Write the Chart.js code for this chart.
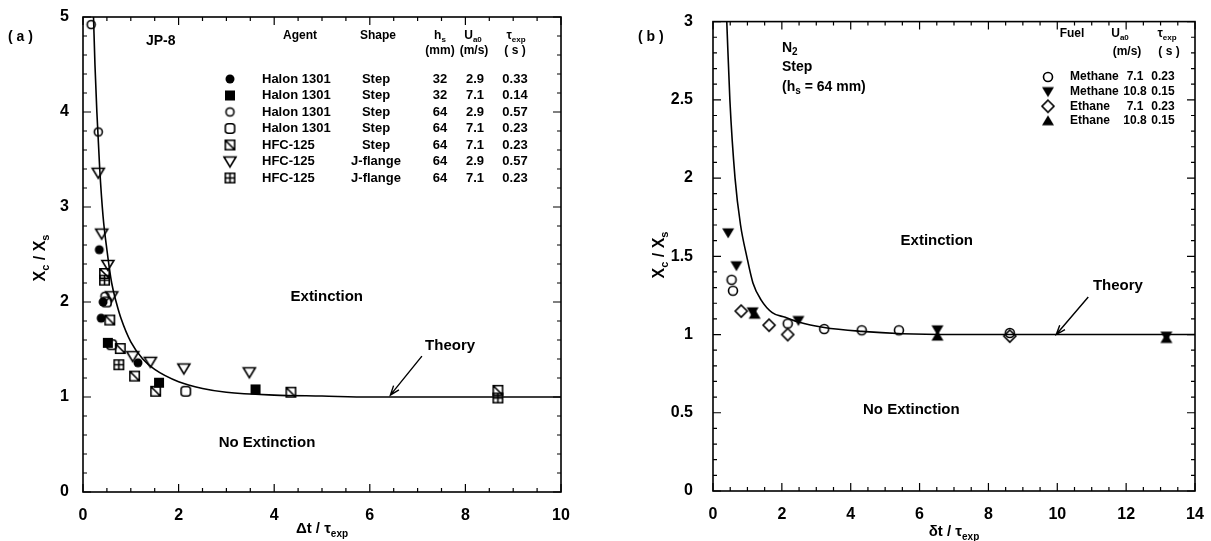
<!DOCTYPE html>
<html>
<head>
<meta charset="utf-8">
<script src="https://cdn.jsdelivr.net/npm/chart.js@4.4.0/dist/chart.umd.min.js"></script>
<style>
  body { margin: 0; background: #fff; width: 1211px; height: 541px; overflow: hidden; position: relative; }
  .panel { position: absolute; top: 0; height: 541px; }
  #wrapA { left: 0; width: 595px; }
  #wrapB { left: 600px; width: 611px; }
</style>
</head>
<body>
<div id="wrapA" class="panel"><canvas id="chartA"></canvas></div>
<div id="wrapB" class="panel"><canvas id="chartB"></canvas></div>
<script>
// ---- panel (a): JP-8, points are [dt/tau_exp, Xc/Xs] ----
const aTheory = [[0.22, 5.0], [0.25, 4.5], [0.29, 4.0], [0.35, 3.4], [0.42, 2.9], [0.5, 2.55], [0.6, 2.2],
  [0.7, 1.99], [0.8, 1.82], [1.0, 1.58], [1.25, 1.4], [1.5, 1.29], [2.0, 1.16], [2.5, 1.09], [3.0, 1.05],
  [4.0, 1.02], [5.0, 1.01], [6.0, 1.0], [10, 1.0]]
const aHalon32Slow = [[0.34, 2.55], [0.38, 1.83], [0.42, 2.0], [1.15, 1.36]]
const aHalon32Fast = [[0.52, 1.57], [1.59, 1.15], [3.61, 1.08]]
const aHalon64Slow = [[0.17, 4.92], [0.32, 3.79], [0.46, 2.06]]
const aHalon64Fast = [[0.49, 2.0], [0.6, 1.55], [2.15, 1.06]]
const aHfcStep = [[0.45, 2.3], [0.56, 1.81], [0.78, 1.51], [1.08, 1.22], [1.52, 1.06], [4.35, 1.05], [8.68, 1.07]]
const aHfcFlangeSlow = [[0.32, 3.36], [0.39, 2.72], [0.52, 2.39], [0.6, 2.06], [1.04, 1.43], [1.41, 1.37], [2.11, 1.3], [3.48, 1.26]]
const aHfcFlangeFast = [[0.45, 2.23], [0.75, 1.34], [8.68, 0.99]]

const aAgents = ["Halon 1301", "Halon 1301", "Halon 1301", "Halon 1301", "HFC-125", "HFC-125", "HFC-125"]
const aShapes = ["Step", "Step", "Step", "Step", "Step", "J-flange", "J-flange"]
const aHeights = ["32", "32", "64", "64", "64", "64", "64"]
const aVelocities = ["2.9", "7.1", "2.9", "7.1", "7.1", "2.9", "7.1"]
const aTaus = ["0.33", "0.14", "0.57", "0.23", "0.23", "0.57", "0.23"]

// ---- panel (b): N2, Step ----
const bTheory = [[0.40, 3.0], [0.49, 2.5], [0.64, 2.0], [0.8, 1.7], [0.98, 1.5], [1.16, 1.33], [1.4, 1.22],
  [1.72, 1.14], [2.1, 1.11], [2.48, 1.08], [3.23, 1.045], [4.32, 1.02], [5.5, 1.005], [7, 1.0], [14, 1.0]]
const bMethaneSlow = [[0.54, 1.35], [0.58, 1.28], [2.17, 1.07], [3.23, 1.035], [4.32, 1.027], [5.4, 1.027], [8.62, 1.01]]
const bMethaneFast = [[0.44, 1.65], [0.68, 1.44], [1.15, 1.145], [2.48, 1.09], [6.52, 1.03], [13.17, 0.99]]
const bEthaneSlow = [[0.82, 1.15], [1.63, 1.06], [2.17, 1.0], [8.62, 0.99]]
const bEthaneFast = [[1.21, 1.13], [6.52, 0.99], [13.17, 0.975]]

const bFuels = ["Methane", "Methane", "Ethane", "Ethane"]
const bVelocities = ["7.1", "10.8", "7.1", "10.8"]
const bTaus = ["0.23", "0.15", "0.23", "0.15"]

const FONT = '"Liberation Sans", Arial, sans-serif'

// marker glyphs drawn once on small canvases
function marker(kind, s) {
  const pad = 2
  const n = s + pad * 2
  const c = document.createElement("canvas")
  c.width = n
  c.height = n
  const g = c.getContext("2d")
  g.lineWidth = 1.6
  g.strokeStyle = "#000"
  g.fillStyle = "#000"
  const m = n / 2, r = s / 2
  g.beginPath()
  if (kind === "dot" || kind === "ring") {
    g.arc(m, m, r - 0.5, 0, Math.PI * 2)
    kind === "dot" ? g.fill() : g.stroke()
  } else if (kind === "box") {
    g.fillRect(m - r, m - r, s, s)
  } else if (kind === "rbox") {
    g.roundRect(m - r + 0.8, m - r + 0.8, s - 1.6, s - 1.6, 3)
    g.stroke()
  } else if (kind === "boxSlash") {
    g.rect(m - r + 0.8, m - r + 0.8, s - 1.6, s - 1.6)
    g.moveTo(m - r + 1, m - r + 1)
    g.lineTo(m + r - 1, m + r - 1)
    g.stroke()
  } else if (kind === "boxPlus") {
    g.rect(m - r + 0.8, m - r + 0.8, s - 1.6, s - 1.6)
    g.moveTo(m, m - r + 1)
    g.lineTo(m, m + r - 1)
    g.moveTo(m - r + 1, m)
    g.lineTo(m + r - 1, m)
    g.stroke()
  } else if (kind === "triDown" || kind === "triDownFill") {
    g.moveTo(m - r, m - r * 0.75)
    g.lineTo(m + r, m - r * 0.75)
    g.lineTo(m, m + r * 0.9)
    g.closePath()
    kind === "triDown" ? g.stroke() : g.fill()
  } else if (kind === "triUpFill") {
    g.moveTo(m - r, m + r * 0.75)
    g.lineTo(m + r, m + r * 0.75)
    g.lineTo(m, m - r * 0.9)
    g.closePath()
    g.fill()
  } else if (kind === "diamond") {
    g.moveTo(m, m - r)
    g.lineTo(m + r, m)
    g.lineTo(m, m + r)
    g.lineTo(m - r, m)
    g.closePath()
    g.stroke()
  }
  return c
}

const aMarkers = [marker("dot", 10), marker("box", 10), marker("ring", 9), marker("rbox", 11),
  marker("boxSlash", 11), marker("triDown", 12), marker("boxPlus", 11)]
const bMarkers = [marker("ring", 10), marker("triDownFill", 12), marker("diamond", 12), marker("triUpFill", 12)]

function pts(list) {
  return list.map(([x, y]) => ({ x, y }))
}

function scatterSet(list, img) {
  return { type: "scatter", data: pts(list), pointStyle: img, pointRadius: 6, order: 1 }
}

function theorySet(list) {
  return {
    type: "line", data: pts(list), borderColor: "#000", borderWidth: 1.6, pointRadius: 0,
    cubicInterpolationMode: "monotone", fill: false, order: 2,
  }
}

// text with subscripts: parts = [[text, isSub], ...]
function rich(ctx, parts, x, y, size, align) {
  let w = 0
  parts.forEach(([t, sub]) => {
    ctx.font = "bold " + (sub ? Math.round(size * 0.68) : size) + "px " + FONT
    w += ctx.measureText(t).width
  })
  let cx = align === "center" ? x - w / 2 : align === "right" ? x - w : x
  ctx.textAlign = "left"
  ctx.textBaseline = "middle"
  parts.forEach(([t, sub]) => {
    ctx.font = "bold " + (sub ? Math.round(size * 0.68) : size) + "px " + FONT
    ctx.fillText(t, cx, y + (sub ? size * 0.32 : 0))
    cx += ctx.measureText(t).width
  })
}

function label(ctx, t, x, y, size, align) {
  rich(ctx, [[t, false]], x, y, size, align || "left")
}

function arrow(ctx, x1, y1, x2, y2) {
  ctx.beginPath()
  ctx.moveTo(x1, y1)
  ctx.lineTo(x2, y2)
  const a = Math.atan2(y2 - y1, x2 - x1)
  ctx.moveTo(x2 - 10 * Math.cos(a - 0.35), y2 - 10 * Math.sin(a - 0.35))
  ctx.lineTo(x2, y2)
  ctx.lineTo(x2 - 10 * Math.cos(a + 0.35), y2 - 10 * Math.sin(a + 0.35))
  ctx.stroke()
}

// boxed frame with inward major and minor ticks on all four sides
function framePlugin(minorX, minorY) {
  return {
    id: "frame",
    afterDatasetsDraw(chart) {
      const { ctx, chartArea: a, scales } = chart
      ctx.save()
      ctx.strokeStyle = "#000"
      ctx.lineWidth = 1.6
      ctx.strokeRect(a.left, a.top, a.right - a.left, a.bottom - a.top)
      ctx.lineWidth = 1.2
      ctx.beginPath()
      const xs = scales.x, ys = scales.y
      for (let v = xs.min; v <= xs.max + 1e-9; v += minorX) {
        const k = v / xs.options.ticks.stepSize
        const len = Math.abs(k - Math.round(k)) < 1e-6 ? 8 : 4
        const p = xs.getPixelForValue(v)
        ctx.moveTo(p, a.bottom)
        ctx.lineTo(p, a.bottom - len)
        ctx.moveTo(p, a.top)
        ctx.lineTo(p, a.top + len)
      }
      for (let v = ys.min; v <= ys.max + 1e-9; v += minorY) {
        const k = v / ys.options.ticks.stepSize
        const len = Math.abs(k - Math.round(k)) < 1e-6 ? 8 : 4
        const p = ys.getPixelForValue(v)
        ctx.moveTo(a.left, p)
        ctx.lineTo(a.left + len, p)
        ctx.moveTo(a.right, p)
        ctx.lineTo(a.right - len, p)
      }
      ctx.stroke()
      ctx.restore()
    },
  }
}

function baseOptions(o) {
  return {
    responsive: true,
    maintainAspectRatio: false,
    animation: false,
    layout: { padding: { left: 0, right: o.padRight, top: o.top, bottom: 0 } },
    plugins: { legend: { display: false }, tooltip: { enabled: false } },
    scales: {
      x: {
        type: "linear", min: 0, max: o.xMax,
        grid: { display: false }, border: { display: false },
        ticks: { stepSize: o.xStep, color: "#000", padding: 6, maxRotation: 0, font: { family: FONT, size: 16, weight: "bold" } },
        afterFit: (s) => { s.height = o.xHeight },
      },
      y: {
        type: "linear", min: 0, max: o.yMax,
        grid: { display: false }, border: { display: false },
        ticks: {
          stepSize: o.yStep, color: "#000", padding: o.yPad, font: { family: FONT, size: 16, weight: "bold" },
          callback: (v) => String(Math.round(v * 10) / 10),
        },
        afterFit: (s) => { s.width = o.yWidth },
      },
    },
  }
}

// ---- chart (a) ----
const aSeries = [aHalon32Slow, aHalon32Fast, aHalon64Slow, aHalon64Fast, aHfcStep, aHfcFlangeSlow, aHfcFlangeFast]

new Chart(document.getElementById("chartA"), {
  type: "scatter",
  data: {
    datasets: [theorySet(aTheory)].concat(aSeries.map((s, i) => scatterSet(s, aMarkers[i]))),
  },
  options: baseOptions({ xMax: 10, xStep: 2, yMax: 5, yStep: 1, padRight: 34, top: 17, xHeight: 49, yWidth: 83, yPad: 6 }),
  plugins: [
    framePlugin(0.5, 0.2),
    {
      id: "notesA",
      afterDraw(chart) {
        const { ctx, scales: { x, y } } = chart
        ctx.save()
        ctx.fillStyle = "#000"
        ctx.strokeStyle = "#000"
        ctx.lineWidth = 1.4
        label(ctx, "( a )", 8, 37, 14)
        label(ctx, "JP-8", 146, 41, 14)
        label(ctx, "Extinction", x.getPixelForValue(5.1), y.getPixelForValue(2.05), 15, "center")
        label(ctx, "No Extinction", x.getPixelForValue(3.85), y.getPixelForValue(0.52), 15, "center")
        label(ctx, "Theory", x.getPixelForValue(7.68), y.getPixelForValue(1.54), 15, "center")
        arrow(ctx, x.getPixelForValue(7.09), y.getPixelForValue(1.43), x.getPixelForValue(6.43), y.getPixelForValue(1.02))
        // axis titles
        rich(ctx, [["\u0394t / \u03c4", false], ["exp", true]], (chart.chartArea.left + chart.chartArea.right) / 2, 529, 15, "center")
        ctx.translate(41, 258)
        ctx.rotate(-Math.PI / 2)
        rich(ctx, [["X", false], ["c", true], [" / X", false], ["s", true]], 0, 0, 16, "center")
        ctx.setTransform(1, 0, 0, 1, 0, 0)
        // legend table
        rich(ctx, [["Agent", false]], 283, 36, 12)
        rich(ctx, [["Shape", false]], 360, 36, 12)
        rich(ctx, [["h", false], ["s", true]], 440, 36, 12, "center")
        rich(ctx, [["U", false], ["a0", true]], 473, 36, 12, "center")
        rich(ctx, [["\u03c4", false], ["exp", true]], 516, 36, 12, "center")
        label(ctx, "(mm)", 440, 51, 12, "center")
        label(ctx, "(m/s)", 474, 51, 12, "center")
        label(ctx, "( s )", 515, 51, 12, "center")
        aAgents.forEach((agent, i) => {
          const ry = 79 + i * 16.5
          const m = aMarkers[i]
          ctx.drawImage(m, 230 - m.width / 2, ry - m.height / 2)
          label(ctx, agent, 262, ry, 13)
          label(ctx, aShapes[i], 376, ry, 13, "center")
          label(ctx, aHeights[i], 440, ry, 13, "center")
          label(ctx, aVelocities[i], 475, ry, 13, "center")
          label(ctx, aTaus[i], 515, ry, 13, "center")
        })
        ctx.restore()
      },
    },
  ],
})

// ---- chart (b) ----
const bSeries = [bMethaneSlow, bMethaneFast, bEthaneSlow, bEthaneFast]

new Chart(document.getElementById("chartB"), {
  type: "scatter",
  data: {
    datasets: [theorySet(bTheory)].concat(bSeries.map((s, i) => scatterSet(s, bMarkers[i]))),
  },
  options: baseOptions({ xMax: 14, xStep: 2, yMax: 3, yStep: 0.5, padRight: 16, top: 16, xHeight: 50, yWidth: 113, yPad: 12 }),
  plugins: [
    framePlugin(0.5, 0.1),
    {
      id: "notesB",
      afterDraw(chart) {
        const { ctx, scales: { x, y } } = chart
        ctx.save()
        ctx.fillStyle = "#000"
        ctx.strokeStyle = "#000"
        ctx.lineWidth = 1.4
        label(ctx, "( b )", 38, 37, 14)
        rich(ctx, [["N", false], ["2", true]], 182, 48, 14)
        label(ctx, "Step", 182, 67, 14)
        rich(ctx, [["(h", false], ["s", true], [" = 64 mm)", false]], 182, 87, 14)
        label(ctx, "Extinction", x.getPixelForValue(6.5), y.getPixelForValue(1.6), 15, "center")
        label(ctx, "No Extinction", x.getPixelForValue(5.76), y.getPixelForValue(0.52), 15, "center")
        label(ctx, "Theory", x.getPixelForValue(11.76), y.getPixelForValue(1.31), 15, "center")
        arrow(ctx, x.getPixelForValue(10.9), y.getPixelForValue(1.24), x.getPixelForValue(9.97), y.getPixelForValue(1.0))
        rich(ctx, [["\u03b4t / \u03c4", false], ["exp", true]], (chart.chartArea.left + chart.chartArea.right) / 2, 532, 15, "center")
        ctx.translate(60, 255)
        ctx.rotate(-Math.PI / 2)
        rich(ctx, [["X", false], ["c", true], [" / X", false], ["s", true]], 0, 0, 16, "center")
        ctx.setTransform(1, 0, 0, 1, 0, 0)
        // legend table
        label(ctx, "Fuel", 472, 34, 12, "center")
        rich(ctx, [["U", false], ["a0", true]], 520, 34, 12, "center")
        rich(ctx, [["\u03c4", false], ["exp", true]], 567, 34, 12, "center")
        label(ctx, "(m/s)", 527, 52, 12, "center")
        label(ctx, "( s )", 569, 52, 12, "center")
        bFuels.forEach((fuel, i) => {
          const ry = 77 + i * 14.6
          const m = bMarkers[i]
          ctx.drawImage(m, 448 - m.width / 2, ry - m.height / 2)
          label(ctx, fuel, 470, ry, 12)
          label(ctx, bVelocities[i], 535, ry, 12, "center")
          label(ctx, bTaus[i], 563, ry, 12, "center")
        })
        ctx.restore()
      },
    },
  ],
})
</script>
</body>
</html>
